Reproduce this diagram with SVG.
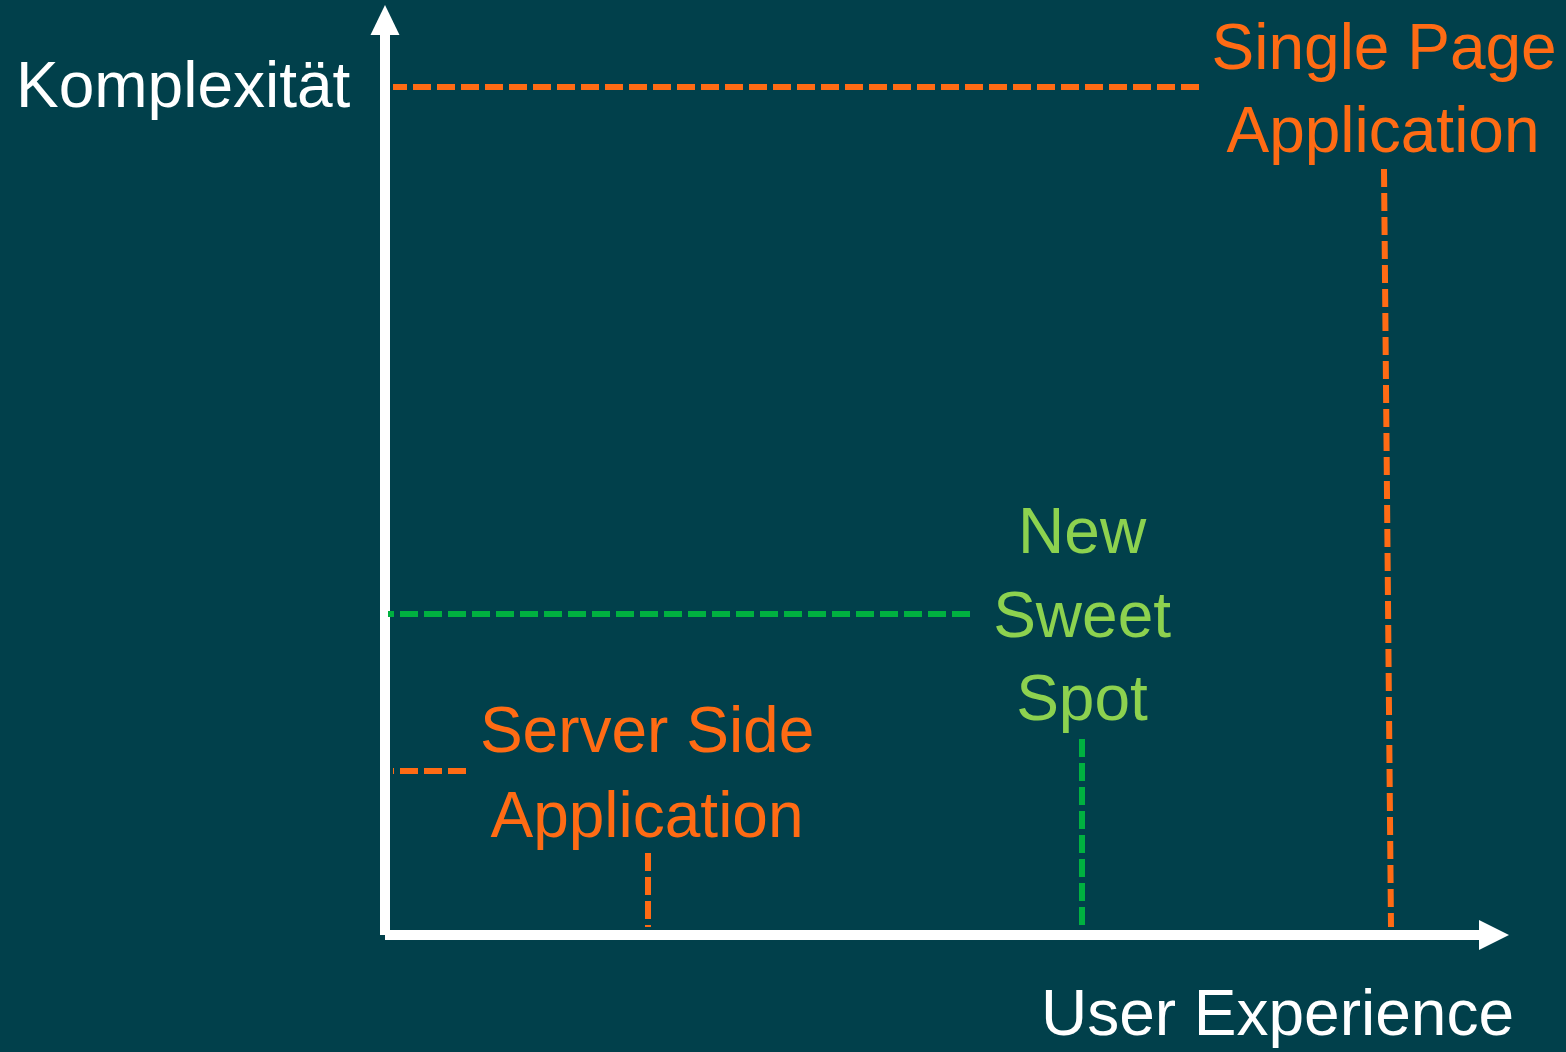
<svg xmlns="http://www.w3.org/2000/svg" width="1566" height="1052" viewBox="0 0 1566 1052">
  <style>
    .bg { fill: #01404B; }
    .axis { fill: #FFFFFF; }
    .lbl { font-family: "Liberation Sans", Arial, sans-serif; font-size: 64px; }
    .white { fill: #FFFFFF; }
    .orange { fill: #FF6B14; }
    .green { fill: #8DD24F; }
    .dash-o { stroke: #FF6B14; stroke-width: 6; stroke-dasharray: 18 6; fill: none; }
    .dash-g { stroke: #00B140; stroke-width: 6; stroke-dasharray: 18 6; fill: none; }
  </style>
  <rect class="bg" x="0" y="0" width="1566" height="1052"/>

  <!-- axes -->
  <g id="axes">
    <rect class="axis" x="380" y="34" width="10" height="901"/>
    <polygon class="axis" points="385,5 399.5,35 370.5,35"/>
    <rect class="axis" x="385" y="930" width="1095" height="10"/>
    <polygon class="axis" points="1509,935 1479,920 1479,950"/>
  </g>

  <!-- dashed guide lines -->
  <g id="connectors">
    <line class="dash-o" x1="1199" y1="87" x2="393" y2="87"/>
    <line class="dash-o" x1="1384" y1="169" x2="1391" y2="927"/>
    <line class="dash-g" x1="970" y1="614" x2="388" y2="614"/>
    <line class="dash-g" x1="1082" y1="739" x2="1082" y2="925"/>
    <line class="dash-o" x1="466" y1="771" x2="393" y2="771"/>
    <line class="dash-o" x1="648" y1="853" x2="648" y2="927"/>
  </g>

  <g id="label-y">
    <text class="lbl white" x="16" y="107">Komplexität</text>
  </g>
  <g id="label-x">
    <text class="lbl white" x="1514" y="1035" text-anchor="end">User Experience</text>
  </g>

  <g id="spa">
    <text class="lbl orange" text-anchor="middle">
      <tspan x="1393" y="69">Single Page</tspan>
      <tspan x="1383" y="152">Application</tspan>
    </text>
  </g>

  <g id="sweet-spot">
    <text class="lbl green" text-anchor="middle">
      <tspan x="1091" y="553">New</tspan>
      <tspan x="1091" y="637">Sweet</tspan>
      <tspan x="1082" y="720">Spot</tspan>
    </text>
  </g>

  <g id="ssa">
    <text class="lbl orange" text-anchor="middle">
      <tspan x="656" y="752">Server Side</tspan>
      <tspan x="647" y="837">Application</tspan>
    </text>
  </g>
</svg>
